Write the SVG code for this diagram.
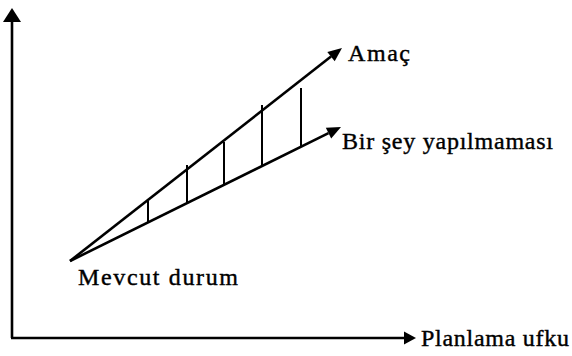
<svg xmlns="http://www.w3.org/2000/svg" width="572" height="356" viewBox="0 0 572 356">
<style>
.ln{stroke:#000;stroke-width:2.6;fill:none;stroke-linecap:butt}
.tick{stroke:#000;stroke-width:2;fill:none}
.hd{fill:#000;stroke:none}
.lbl{font-size:24px;fill:#000;stroke:#000;stroke-width:0.4}
</style>
<rect width="572" height="356" fill="#fff"/>
<g id="connectors">
<path class="ln" d="M12,338 V20"/>
<polygon class="hd" points="12,8 21,22 3,22"/>
<path class="ln" d="M11,338 H406"/>
<polygon class="hd" points="416,338 404,331.5 404,344.5"/>
<path class="ln" d="M70,261 L331,56.6"/>
<polygon class="hd" points="342,48 334.7,61.3 327.3,51.9"/>
<path class="ln" d="M70,261 L328.5,133.2"/>
<polygon class="hd" points="341,127 331.2,138.6 325.8,127.8"/>
<path class="tick" d="M148,201 V223 M187,165 V203 M224,142 V185 M262,105 V165 M301,88 V146"/>
</g>
<g id="goal"><text class="lbl" font-family="Liberation Serif, DejaVu Serif, serif" x="348" y="61" textLength="62" lengthAdjust="spacing">Amaç</text></g>
<g id="nothing"><text class="lbl" font-family="Liberation Serif, DejaVu Serif, serif" x="342" y="149" textLength="211" lengthAdjust="spacing">Bir şey yapılmaması</text></g>
<g id="current"><text class="lbl" font-family="Liberation Serif, DejaVu Serif, serif" x="78" y="285" textLength="160" lengthAdjust="spacing">Mevcut durum</text></g>
<g id="horizon"><text class="lbl" font-family="Liberation Serif, DejaVu Serif, serif" x="421" y="346" textLength="148" lengthAdjust="spacing">Planlama ufku</text></g>
</svg>
